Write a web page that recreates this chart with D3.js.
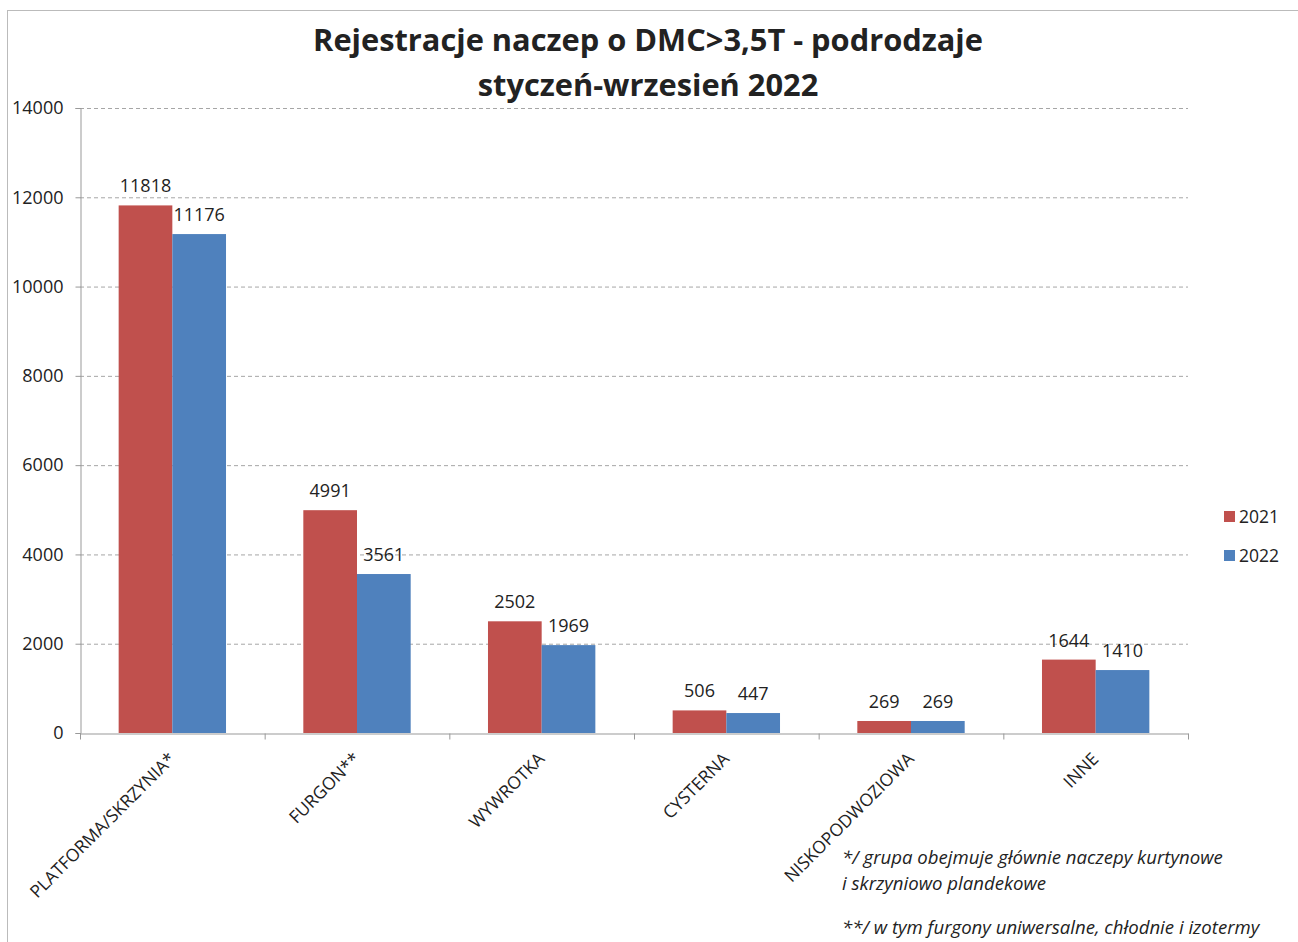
<!DOCTYPE html>
<html>
<head>
<meta charset="utf-8">
<script src="https://cdn.jsdelivr.net/npm/d3@7"></script>
<style>
  body { margin: 0; background: #fff; }
  text { font-family: "Open Sans", "Noto Sans", sans-serif; fill: #222; }
</style>
</head>
<body>
<div id="chart"></div>
<script>
const categories = ["PLATFORMA/SKRZYNIA*", "FURGON**", "WYWROTKA", "CYSTERNA", "NISKOPODWOZIOWA", "INNE"];
const series = ["2021", "2022"];
const values2021 = [11818, 4991, 2502, 506, 269, 1644];
const values2022 = [11176, 3561, 1969, 447, 269, 1410];
const yTicks = [0, 2000, 4000, 6000, 8000, 10000, 12000, 14000];
const titleLines = ["Rejestracje naczep o DMC>3,5T - podrodzaje", "styczeń-wrzesień 2022"];
const notes = ["*/ grupa obejmuje głównie naczepy kurtynowe", "i skrzyniowo plandekowe", "**/ w tym furgony uniwersalne, chłodnie i izotermy"];

const width = 1298, height = 942;
const margin = {top: 108, bottom: 209, left: 80, right: 110};

const data = categories.map((c, i) => ({cat: c, vals: [values2021[i], values2022[i]]}));

const svg = d3.select("#chart")
  .append("svg")
  .attr("width", width)
  .attr("height", height);

// frame
svg.append("rect")
  .attr("x", 7.5).attr("y", 10.5)
  .attr("width", width).attr("height", height)
  .attr("fill", "none").attr("stroke", "#bbb");

const x0 = d3.scaleBand()
  .domain(categories)
  .range([margin.left, width - margin.right])
  .paddingInner(0)
  .paddingOuter(0);

const x1 = d3.scaleBand()
  .domain(series)
  .range([0, x0.bandwidth()])
  .paddingOuter(0.72)
  .paddingInner(0);

const y = d3.scaleLinear()
  .domain([0, 14000])
  .range([height - margin.bottom, margin.top]);

const color = d3.scaleOrdinal()
  .domain(series)
  .range(["#c0504d", "#4f81bd"]);

// gridlines
svg.append("g")
  .selectAll("line")
  .data(yTicks.filter(d => d > 0))
  .enter()
  .append("line")
  .attr("x1", margin.left)
  .attr("x2", width - margin.right)
  .attr("y1", d => y(d) + 0.5)
  .attr("y2", d => y(d) + 0.5)
  .attr("stroke", "#a6a6a6")
  .attr("stroke-dasharray", "4,3");

// y axis
const yAxis = svg.append("g")
  .attr("transform", `translate(${margin.left + 0.5},0)`)
  .call(d3.axisLeft(y).tickValues(yTicks).tickSize(5).tickPadding(12).tickFormat(d3.format("d")));
yAxis.selectAll("line, path").attr("stroke", "#999");
yAxis.selectAll("text").style("font-size", "18px").style("fill", "#222");

// x axis
const xAxis = svg.append("g")
  .attr("transform", `translate(0,${height - margin.bottom + 0.5})`)
  .call(d3.axisBottom(x0).tickSize(0).tickFormat(""));
xAxis.selectAll("path").attr("stroke", "#999");
xAxis.selectAll(".tick").remove();
xAxis.selectAll("line.sep")
  .data(categories.concat(["end"]))
  .enter()
  .append("line")
  .attr("x1", (d, i) => margin.left + i * x0.bandwidth() + 0.5)
  .attr("x2", (d, i) => margin.left + i * x0.bandwidth() + 0.5)
  .attr("y1", 0).attr("y2", 6)
  .attr("stroke", "#999");

// category labels
svg.append("g")
  .selectAll("text")
  .data(categories)
  .enter()
  .append("text")
  .attr("transform", d => `translate(${x0(d) + x0.bandwidth() / 2 + 4},${height - margin.bottom + 27}) rotate(-45)`)
  .style("text-anchor", "end")
  .style("font-size", "17.5px")
  .text(d => d);

// bars
const groups = svg.selectAll("g.grp")
  .data(data)
  .enter()
  .append("g")
  .attr("class", "grp")
  .attr("transform", d => `translate(${x0(d.cat)},0)`);

groups.selectAll("rect")
  .data(d => d.vals.map((v, i) => ({s: series[i], v: v})))
  .enter()
  .append("rect")
  .attr("x", d => x1(d.s))
  .attr("y", d => y(d.v))
  .attr("width", x1.bandwidth())
  .attr("height", d => y(0) - y(d.v))
  .attr("fill", d => color(d.s));

groups.selectAll("text.val")
  .data(d => d.vals.map((v, i) => ({s: series[i], v: v})))
  .enter()
  .append("text")
  .attr("class", "val")
  .attr("x", d => x1(d.s) + x1.bandwidth() / 2)
  .attr("y", d => y(d.v) - 13)
  .style("text-anchor", "middle")
  .style("font-size", "18px")
  .text(d => d.v);

// title
svg.append("g")
  .selectAll("text")
  .data(titleLines)
  .enter()
  .append("text")
  .attr("x", 648)
  .attr("y", (d, i) => 51 + i * 45)
  .style("text-anchor", "middle")
  .style("font-size", "30.8px")
  .style("font-weight", "bold")
  .text(d => d);

// legend
const legend = svg.append("g")
  .attr("transform", `translate(1224, 511)`);

series.forEach((s, i) => {
  legend.append("rect")
    .attr("x", 0)
    .attr("y", i * 39)
    .attr("width", 11)
    .attr("height", 11)
    .attr("fill", color(s));
  legend.append("text")
    .attr("x", 15)
    .attr("y", i * 39 + 12)
    .style("font-size", "17.5px")
    .text(s);
});

// footnotes
svg.append("g")
  .selectAll("text")
  .data(notes)
  .enter()
  .append("text")
  .attr("x", 842)
  .attr("y", (d, i) => [864, 890, 934][i])
  .style("font-size", "18.6px")
  .style("font-style", "italic")
  .text(d => d);
</script>
</body>
</html>
